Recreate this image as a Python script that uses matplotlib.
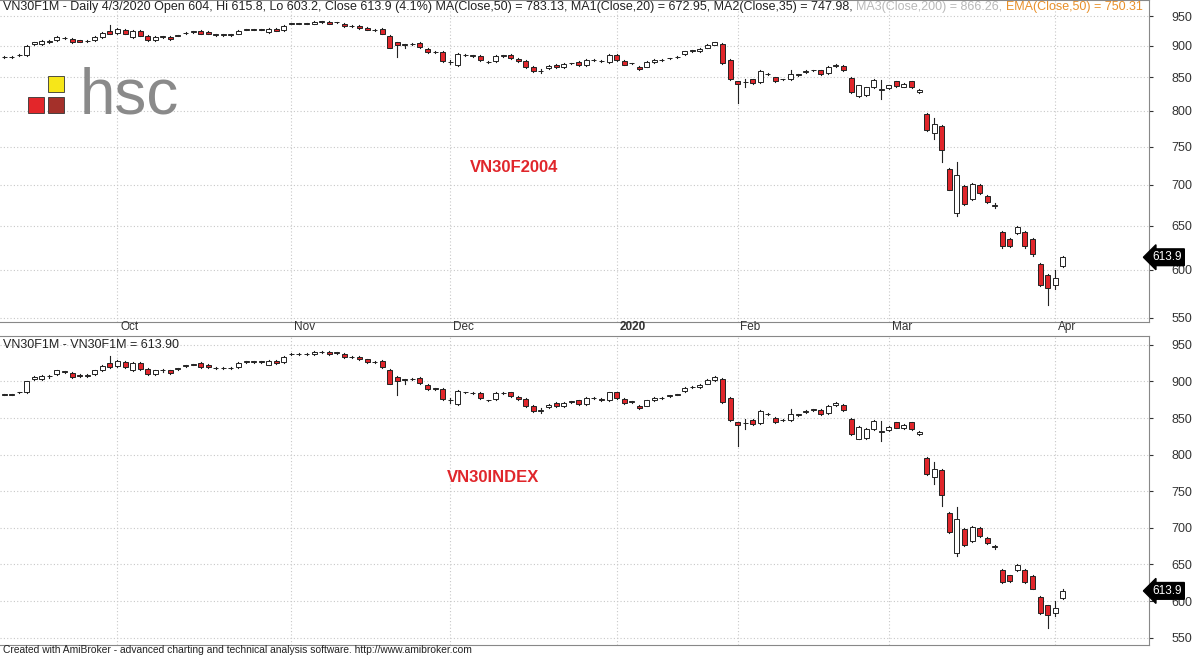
import matplotlib
matplotlib.use("Agg")
import matplotlib.pyplot as plt
from matplotlib.patches import Rectangle
from matplotlib.ticker import FixedLocator, NullLocator, FixedFormatter
import numpy as np

plt.rcParams['font.family'] = ['Liberation Sans', 'DejaVu Sans']

# (open, close, high, low)  None -> small default wick
candles = [
(882,882,None,None),(882,882,None,None),(885,885,None,None),(885,900,None,None),(903,906,None,None),
(903,908,None,None),(907,907,909,905),(910,915,None,None),(913,913,None,None),(911,906,None,None),
(909,907,None,None),(908,908,910,906),(910,915,None,None),(915,921,None,None),(925,920,935,None),
(921,928,None,None),(927,920,None,None),(915,925,None,None),(925,917,None,None),(917,910,None,None),
(910,915,None,None),(915,915,917,913),(915,911,None,None),(917,917,None,None),(921,921,None,None),
(923,923,None,None),(925,920,None,None),(923,920,None,None),(918,918,None,None),(918,918,None,None),
(918,918,None,None),(920,925,None,None),(927,927,None,None),(927,927,None,None),(927,927,None,None),
(923,928,None,None),(928,925,None,None),(926,933,None,None),(937,937,None,None),(937,937,None,None),
(937,937,None,None),(937,940,None,None),(940,940,None,None),(940,937,None,None),(939,939,None,None),
(937,933,None,None),(933,933,None,None),(933,930,None,None),(930,927,None,None),(926,926,None,None),
(928,920,None,None),(916,897,None,None),(906,901,None,882),(902,902,903,896),(903,903,None,None),
(905,898,None,None),(895,890,None,None),(890,890,None,None),(890,876,None,None),(874,874,877,871),
(869,887,None,None),(885,885,None,None),(884,884,None,None),(884,877,None,None),(874,874,None,None),
(876,884,None,None),(884,884,None,None),(885,880,None,None),(879,876,None,None),(876,866,None,None),
(866,860,None,None),(860,860,863,857),(865,868,None,None),(870,866,None,None),(866,871,None,None),
(872,872,None,None),(874,869,None,None),(869,877,None,None),(877,877,None,None),(876,875,None,None),
(874,885,None,None),(885,877,None,None),(876,870,None,None),(872,872,None,None),(866,863,None,None),
(867,874,None,None),(874,877,None,None),(877,877,None,None),(880,880,None,None),(882,882,None,None),
(887,891,None,None),(892,892,None,None),(892,895,None,None),(897,902,None,None),(902,906,None,None),
(903,872,None,None),(877,847,None,None),(844,840,None,812),(843,843,848,835),(847,842,None,None),
(843,860,None,None),(855,855,None,None),(850,844,None,None),(847,847,None,None),(847,855,862,None),
(854,854,None,None),(858,860,None,None),(861,861,None,None),(861,855,None,None),(857,866,None,None),
(868,870,None,None),(868,861,None,None),(849,828,None,None),(822,838,None,None),(823,835,None,None),
(835,846,None,None),(831,831,846,818),(834,838,None,None),(844,837,None,None),(836,840,None,None),
(844,835,None,None),(828,831,None,None),(796,773,None,None),(769,781,790,760),(779,745,None,730),
(720,694,None,None),(665,712,729,662),(699,676,None,None),(682,701,None,None),(700,689,None,None),
(686,679,None,None),(674,674,677,671),(643,626,None,None),(635,627,None,None),(642,649,None,None),
(643,626,None,None),(634,617,None,None),(606,584,None,None),(594,581,None,563),(584,591,600,580),
(604,613.9,615.8,603.2),
]
month_labels = ["Oct", "Nov", "Dec", "2020", "Feb", "Mar", "Apr"]
month_bars = [15, 38, 59, 81, 97, 117, 139]
y_ticks = [550, 600, 650, 700, 750, 800, 850, 900, 950]
last_close = 613.9

W, H = 1200, 656
fig = plt.figure(figsize=(12, 6.56), dpi=100)
RED = "#e0262b"

def draw(ax, ylo, yhi, log):
    if log:
        ax.set_yscale('log')
    for i, (o, c, h, l) in enumerate(candles):
        top, bot = max(o, c), min(o, c)
        h = h if h is not None else top + 1.2
        l = l if l is not None else bot - 1.2
        ax.plot([i, i], [l, h], color="#222222", lw=0.8, zorder=2)
        hgt = max(top - bot, 0.8)
        fc = RED if c < o else "white"
        ax.add_patch(Rectangle((i - 0.33, bot), 0.66, hgt, facecolor=fc,
                               edgecolor="#222222", lw=0.7, zorder=3))
    ax.set_xlim(-0.53, 151.4)
    ax.set_ylim(ylo, yhi)
    ax.yaxis.set_major_locator(FixedLocator(y_ticks))
    ax.yaxis.set_major_formatter(FixedFormatter([str(t) for t in y_ticks]))
    ax.yaxis.set_minor_locator(NullLocator())
    ax.yaxis.tick_right()
    ax.tick_params(axis='y', labelsize=9, length=3, pad=28, colors="#333333")
    for lab in ax.get_yticklabels():
        lab.set_horizontalalignment('right')
    ax.xaxis.set_major_locator(FixedLocator(month_bars))
    ax.tick_params(axis='x', length=0, labelbottom=False)
    ax.grid(True, which='major', color="#c8c8c8", ls=(0, (1, 2)), lw=0.8)
    for s in ax.spines.values():
        s.set_color("#888888"); s.set_linewidth(0.8)
    ax.spines['left'].set_visible(False)
    ax.text(1.003, last_close, "613.9", transform=ax.get_yaxis_transform(), fontsize=8.5,
            color="white", va='center', ha='left',
            bbox=dict(boxstyle="larrow,pad=0.2", fc="black", ec="black"))

ax1 = fig.add_axes([0, 1 - 322 / H, 1149 / W, 322 / H])
draw(ax1, 546, 978, True)
ax2 = fig.add_axes([0, 1 - 645 / H, 1149 / W, 309 / H])
draw(ax2, 540, 962, False)

for b, lab in zip(month_bars, month_labels):
    fig.text((4 + 7.56 * b + 3) / W, 1 - 327 / H, lab, fontsize=8.5, ha='left', va='center',
             color="#333333", fontweight='bold' if lab == "2020" else 'normal')

# title segments
segs = [("VN30F1M - Daily 4/3/2020 Open 604, Hi 615.8, Lo 603.2, Close 613.9 (4.1%) MA(Close,50) = 783.13, MA1(Close,20) = 672.95, MA2(Close,35) = 747.98, ", "#222222"),
        ("MA3(Close,200) = 866.26, ", "#b8b8b8"),
        ("EMA(Close,50) = 750.31", "#e8902a")]
fig.canvas.draw()
r = fig.canvas.get_renderer()
x = 3
for s, col in segs:
    t = fig.text(x / W, 1 - 7 / H, s, fontsize=9, color=col, va='center', ha='left')
    x += t.get_window_extent(r).width
fig.text(3 / W, 1 - 345 / H, "VN30F1M - VN30F1M = 613.90", fontsize=9, color="#222222", va='center')
fig.text(3 / W, 1 - 650 / H, "Created with AmiBroker - advanced charting and technical analysis software. http://www.amibroker.com",
         fontsize=7.4, color="#222222", va='center')

fig.text(470 / W, 1 - 167 / H, "VN30F2004", fontsize=12, color=RED, fontweight='bold', va='center')
fig.text(447 / W, 1 - 477 / H, "VN30INDEX", fontsize=12, color=RED, fontweight='bold', va='center')

# logo
for (x0, y0, col) in [(48, 76, "#f6e619"), (28, 97, "#e3262a"), (48, 97, "#a4302a")]:
    fig.patches.append(Rectangle((x0 / W, 1 - (y0 + 16) / H), 16 / W, 16 / H, transform=fig.transFigure,
                                 fc=col, ec="#333333", lw=0.6))
fig.text(80 / W, 1 - 96 / H, "hsc", fontsize=46, color="#8a8a8a", va='center', ha='left')

fig.savefig("out.png", dpi=100, facecolor="white")
